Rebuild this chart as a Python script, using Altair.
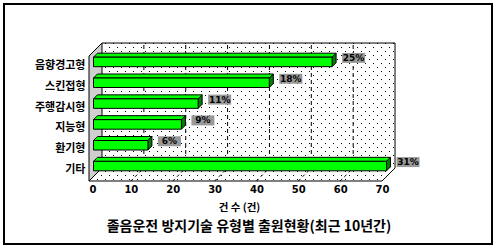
import altair as alt
import pandas as pd

# --- data -------------------------------------------------------------
categories = ["음향경고형", "스킨접형", "주행감시형", "지능형", "환기형", "기타"]
counts = [57, 42, 25, 21, 13, 70]
x_ticks = [0, 10, 20, 30, 40, 50, 60, 70]
x_max = 70

KFONT = "Noto Sans CJK KR"

# --- pseudo-3D geometry (pixels converted to data units) -----------------
PX_X = 4.186                      # pixels per count
PX_Y = 20.83                      # pixels per category band
W, H = 306, 138                   # plot box incl. depth
DEPTH = 13                        # wall depth in pixels
DX, DY = DEPTH / PX_X, DEPTH / PX_Y
XDOM = [0, W / PX_X]
YDOM = [0, H / PX_Y]
n = len(categories)

AX, AY = 4.5 / PX_X, 4.5 / PX_Y   # bar front plane
BX, BY = 8.5 / PX_X, 8.5 / PX_Y   # bar back plane
HH = 4.75 / PX_Y                  # half bar height
DD = BY - AY

xs = alt.Scale(domain=XDOM, nice=False, zero=False)
ys = alt.Scale(domain=YDOM, nice=False, zero=False)

total = sum(counts)
pct = [f"{round(v / total * 100)}%" for v in counts]
centers = [n - 0.5 - i for i in range(n)]

label_expr = "[" + ",".join(f"'{c}'" for c in reversed(categories)) + "][round(datum.value - 0.5)]"

x_axis = alt.Axis(values=x_ticks, format="d", domain=False, ticks=False, grid=False,
                  labelFont="DejaVu Sans", labelFontWeight="bold", labelFontSize=10,
                  labelColor="black", labelPadding=3,
                  title="건  수 (건)", titleFont=KFONT, titleFontWeight="bold",
                  titleFontSize=10.5, titleColor="black", titlePadding=8, titleX=150)
y_axis = alt.Axis(values=centers, labelExpr=label_expr, domain=False, ticks=False,
                  grid=False, labelFont=KFONT, labelFontWeight="bold",
                  labelFontSize=11, labelColor="black", labelPadding=4,
                  labelBaseline="middle", labelOffset=-1, title=None)


def X(field):
    return alt.X(field, scale=xs, axis=x_axis)


def Y(field, **kw):
    return alt.Y(field, scale=ys, axis=y_axis, **kw)


# bar faces
front = pd.DataFrame({
    "cat": categories,
    "x": [AX] * n,
    "x2": [AX + v for v in counts],
    "y": [c + AY - HH for c in centers],
    "y2": [c + AY + HH for c in centers],
})

top_rows, side_rows = [], []
for cat, v, c in zip(categories, counts, centers):
    yt = c + AY + HH
    top_rows += [
        {"cat": cat, "x": AX, "lo": yt, "hi": yt},
        {"cat": cat, "x": BX, "lo": yt, "hi": yt + DD},
        {"cat": cat, "x": AX + v, "lo": yt, "hi": yt + DD},
        {"cat": cat, "x": BX + v, "lo": yt + DD, "hi": yt + DD},
    ]
    side_rows += [
        {"cat": cat, "x": AX + v, "lo": c + AY - HH, "hi": c + AY + HH},
        {"cat": cat, "x": BX + v, "lo": c + BY - HH, "hi": c + BY + HH},
    ]
top = pd.DataFrame(top_rows)
side = pd.DataFrame(side_rows)

# percentage badges
GAP, BW, BH = 6 / PX_X, 23 / PX_X, 10 / PX_Y
badges = pd.DataFrame({
    "cat": categories,
    "label": pct,
    "x": [BX + v + GAP for v in counts],
    "x2": [BX + v + GAP + BW for v in counts],
    "xm": [BX + v + GAP + BW / 2 for v in counts],
    "y": [c + BY - BH / 2 for c in centers],
    "y2": [c + BY + BH / 2 for c in centers],
    "ym": [c + BY for c in centers],
})

# walls
side_wall = pd.DataFrame({"x": [0, DX], "lo": [0, DY], "hi": [n, n + DY]})
floor = pd.DataFrame({
    "x": [0, DX, x_max, x_max + DX],
    "lo": [0, 0, 0, DY],
    "hi": [0, DY, DY, DY],
})
back_wall = pd.DataFrame({"x": [DX], "x2": [x_max + DX], "y": [DY], "y2": [n + DY]})
edges = pd.DataFrame({
    "x": [DX, x_max + DX, 0, x_max],
    "x2": [x_max + DX, x_max + DX, x_max, x_max + DX],
    "y": [n + DY, n + DY, 0, 0],
    "y2": [n + DY, DY, 0, DY],
})
grid_back = pd.DataFrame({"x": [t + DX for t in x_ticks[1:-1]], "y": DY, "y2": n + DY})
grid_floor = pd.DataFrame({"x": x_ticks[1:-1], "x2": [t + DX for t in x_ticks[1:-1]],
                           "y": 0.0, "y2": DY})

# dotted wall texture (8x8 cell, two dots per cell)
dots = []
for r, py in enumerate(range(0, H, 4)):
    for px in range((r % 2) * 4, W, 8):
        dots.append(((px + 0.5) / PX_X, (H - py - 0.5) / PX_Y))
dots = pd.DataFrame(dots, columns=["x", "y"])
lift = dots["y"] * PX_Y  # pixels above the front edge
on_back = (dots["x"] >= DX) & (dots["x"] <= x_max + DX) & (dots["y"] >= DY)
on_floor = (dots["y"] < DY) & (dots["x"] * PX_X >= lift) & (dots["x"] * PX_X <= x_max * PX_X + lift)
dots = dots[on_back | on_floor]

# --- layers -------------------------------------------------------------
back = alt.Chart(back_wall).mark_rect(fill="white").encode(
    x=X("x:Q"), x2="x2:Q", y=Y("y:Q"), y2="y2:Q",
)
floor_l = alt.Chart(floor).mark_area(orient="vertical", fill="white").encode(
    x=X("x:Q"), y=Y("lo:Q", stack=None), y2="hi:Q",
)
dots_l = alt.Chart(dots).mark_square(size=1, color="black", opacity=1).encode(
    x=X("x:Q"), y=Y("y:Q"),
)
side_l = alt.Chart(side_wall).mark_area(orient="vertical", fill="#cfcfcf", stroke="black",
                                        strokeWidth=1).encode(
    x=X("x:Q"), y=Y("lo:Q", stack=None), y2="hi:Q",
)
gb = alt.Chart(grid_back).mark_rule(color="black", strokeDash=[4, 3], strokeWidth=1).encode(
    x=X("x:Q"), y=Y("y:Q"), y2="y2:Q",
)
gf = alt.Chart(grid_floor).mark_rule(color="black", strokeDash=[3, 3], strokeWidth=1).encode(
    x=X("x:Q"), x2="x2:Q", y=Y("y:Q"), y2="y2:Q",
)
edge_l = alt.Chart(edges).mark_rule(color="black", strokeWidth=1).encode(
    x=X("x:Q"), x2="x2:Q", y=Y("y:Q"), y2="y2:Q",
)
bar_front = alt.Chart(front).mark_rect(fill="#00ff00", stroke="black", strokeWidth=1).encode(
    x=X("x:Q"), x2="x2:Q", y=Y("y:Q"), y2="y2:Q",
)
bar_top = alt.Chart(top).mark_area(orient="vertical", fill="#00ff00", stroke="black",
                                   strokeWidth=1).encode(
    x=X("x:Q"), y=Y("lo:Q", stack=None), y2="hi:Q", detail="cat:N",
)
bar_side = alt.Chart(side).mark_area(orient="vertical", fill="#008000", stroke="black",
                                     strokeWidth=1).encode(
    x=X("x:Q"), y=Y("lo:Q", stack=None), y2="hi:Q", detail="cat:N",
)
badge_box = alt.Chart(badges).mark_rect(fill="#999999").encode(
    x=X("x:Q"), x2="x2:Q", y=Y("y:Q"), y2="y2:Q",
)
badge_txt = alt.Chart(badges).mark_text(font="DejaVu Sans", fontWeight="bold", fontSize=9,
                                        color="black", baseline="middle").encode(
    x=X("xm:Q"), y=Y("ym:Q"), text="label:N",
)

# outer frame and caption below the plot
frame = alt.Chart(back_wall).mark_rect(fill=None, stroke="black", strokeWidth=2).encode(
    x=alt.value(4 - 89), x2=alt.value(492 - 89),
    y=alt.value(4 - 43), y2=alt.value(244 - 43),
)
caption = alt.Chart(back_wall).mark_text(
    text="졸음운전 방지기술 유형별 출원현황(최근 10년간)", font=KFONT, fontWeight="bold",
    fontSize=14, color="black", baseline="middle", align="center",
).encode(x=alt.value(249 - 89), y=alt.value(227 - 43))

chart = alt.layer(
    back, floor_l, dots_l, side_l, gb, gf, edge_l,
    bar_top, bar_side, bar_front, badge_box, badge_txt, frame, caption,
).properties(
    width=W, height=H,
    autosize=alt.AutoSizeParams(type="none"),
    padding={"left": 89, "top": 43, "right": 497 - 89 - W, "bottom": 249 - 43 - H},
    background="white",
).configure_view(stroke=None)

chart.save("out.html", embed_options={"renderer": "svg", "actions": False})
